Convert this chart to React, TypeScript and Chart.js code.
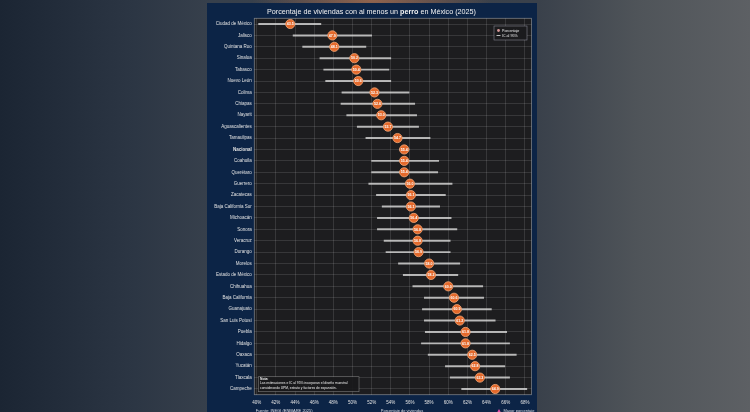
import React, { useEffect, useRef } from "react";
import { Chart, registerables } from "chart.js";
Chart.register(...registerables);

const states = [
  "Ciudad de México", "Jalisco", "Quintana Roo", "Sinaloa", "Tabasco", "Nuevo León",
  "Colima", "Chiapas", "Nayarit", "Aguascalientes", "Tamaulipas", "Nacional",
  "Coahuila", "Querétaro", "Guerrero", "Zacatecas", "Baja California Sur", "Michoacán",
  "Sonora", "Veracruz", "Durango", "Morelos", "Estado de México", "Chihuahua",
  "Baja California", "Guanajuato", "San Luis Potosí", "Puebla", "Hidalgo", "Oaxaca",
  "Yucatán", "Tlaxcala", "Campeche",
];
const pct = [
  43.5, 47.9, 48.1, 50.2, 50.4, 50.6,
  52.3, 52.6, 53.0, 53.7, 54.7, 55.4,
  55.4, 55.4, 56.0, 56.1, 56.1, 56.4,
  56.8, 56.8, 56.9, 58.0, 58.2, 60.0,
  60.6, 60.9, 61.2, 61.8, 61.8, 62.5,
  62.8, 63.3, 64.9,
];
const ciLow = [
  40.2, 43.8, 44.8, 46.6, 47.0, 47.2,
  48.9, 48.8, 49.4, 50.5, 51.4, 54.9,
  52.0, 52.0, 51.7, 52.5, 53.1, 52.6,
  52.6, 53.3, 53.5, 54.8, 55.3, 56.3,
  57.5, 57.3, 57.5, 57.6, 57.2, 57.9,
  59.7, 60.2, 61.4,
];
const ciHigh = [
  46.7, 52.0, 51.4, 54.0, 53.8, 54.0,
  55.9, 56.5, 56.7, 56.9, 58.1, 55.9,
  59.0, 58.9, 60.4, 59.7, 59.1, 60.3,
  60.9, 60.2, 60.2, 61.2, 61.0, 63.6,
  63.7, 64.5, 64.9, 66.1, 66.4, 67.1,
  65.9, 66.4, 68.2,
];
const xTicks = [40, 42, 44, 46, 48, 50, 52, 54, 56, 58, 60, 62, 64, 66, 68];

const FAMILY = "'Liberation Sans', 'DejaVu Sans', Arial, sans-serif";
const ORANGE = "#e4692b";

const decor = {
  id: "decor",
  beforeDraw(chart: any) {
    const { ctx, chartArea: a } = chart;
    ctx.save();
    ctx.fillStyle = "#1d1d1f";
    ctx.fillRect(a.left, a.top, a.right - a.left, a.bottom - a.top);
    ctx.restore();
  },
  afterDatasetsDraw(chart: any) {
    const { ctx } = chart;
    const meta = chart.getDatasetMeta(1);
    ctx.save();
    ctx.fillStyle = "#ffffff";
    ctx.font = `bold 3.6px ${FAMILY}`;
    ctx.textAlign = "center";
    ctx.textBaseline = "middle";
    meta.data.forEach((pt: any, i: number) => {
      ctx.fillText(pct[i].toFixed(1), pt.x, pt.y + 0.2);
    });
    ctx.restore();
  },
  afterDraw(chart: any) {
    const { ctx, chartArea: a } = chart;
    ctx.save();
    // plot border
    ctx.strokeStyle = "rgba(200,200,200,0.55)";
    ctx.lineWidth = 0.8;
    ctx.strokeRect(a.left, a.top, a.right - a.left, a.bottom - a.top);

    // title
    const t1 = "Porcentaje de viviendas con al menos un ";
    const t2 = "perro";
    const t3 = " en México (2025)";
    const fn = `7.2px ${FAMILY}`;
    const fb = `bold 7.2px ${FAMILY}`;
    ctx.font = fn;
    const w1 = ctx.measureText(t1).width;
    const w3 = ctx.measureText(t3).width;
    ctx.font = fb;
    const w2 = ctx.measureText(t2).width;
    let x = 164.5 - (w1 + w2 + w3) / 2;
    ctx.textBaseline = "middle";
    ctx.textAlign = "left";
    ctx.fillStyle = "#f2f2f2";
    ctx.font = fn;
    ctx.fillText(t1, x, 9);
    x += w1;
    ctx.font = fb;
    ctx.fillText(t2, x, 9);
    x += w2;
    ctx.font = fn;
    ctx.fillText(t3, x, 9);

    // legend
    ctx.fillStyle = "#1b1b1d";
    ctx.fillRect(287, 23, 33, 14);
    ctx.strokeStyle = "rgba(200,200,220,0.6)";
    ctx.lineWidth = 0.6;
    ctx.strokeRect(287, 23, 33, 14);
    ctx.fillStyle = "#d99a9a";
    ctx.beginPath();
    ctx.arc(291.5, 27.5, 1.4, 0, Math.PI * 2);
    ctx.fill();
    ctx.strokeStyle = "#e8e8e8";
    ctx.lineWidth = 0.8;
    ctx.beginPath();
    ctx.moveTo(289.5, 32.5);
    ctx.lineTo(293.5, 32.5);
    ctx.stroke();
    ctx.fillStyle = "#eeeeee";
    ctx.font = `3.6px ${FAMILY}`;
    ctx.fillText("Porcentaje", 295, 27.6);
    ctx.fillText("IC al 95%", 295, 32.6);

    // note
    ctx.fillStyle = "rgba(25,25,27,0.92)";
    ctx.fillRect(51.3, 373.7, 100.7, 15);
    ctx.strokeStyle = "rgba(200,200,200,0.55)";
    ctx.lineWidth = 0.6;
    ctx.strokeRect(51.3, 373.7, 100.7, 15);
    ctx.fillStyle = "#eeeeee";
    ctx.font = `bold 3.3px ${FAMILY}`;
    ctx.fillText("Nota:", 53, 376.5);
    ctx.font = `3.3px ${FAMILY}`;
    ctx.fillText("Las estimaciones e IC al 95% incorporan el diseño muestral", 53, 380.5);
    ctx.fillText("considerando UPM, estrato y factores de expansión.", 53, 384.8);

    // footer
    ctx.fillStyle = "#d8dce4";
    ctx.font = `4px ${FAMILY}`;
    ctx.fillText("Fuente: INEGI (ENBIARE 2025)", 48.7, 408);
    ctx.textAlign = "center";
    ctx.fillText("Porcentaje de viviendas", 195, 408);
    ctx.textAlign = "left";
    ctx.fillStyle = "#e24fa8";
    ctx.beginPath();
    ctx.moveTo(292, 406);
    ctx.lineTo(294.2, 410);
    ctx.lineTo(289.8, 410);
    ctx.closePath();
    ctx.fill();
    ctx.fillStyle = "#d8dce4";
    ctx.fillText("Mayor porcentaje", 296.5, 408);
    ctx.restore();
  },
};

export default function App() {
  const ref = useRef<HTMLCanvasElement>(null);
  useEffect(() => {
    document.body.style.margin = "0";
    document.body.style.overflow = "hidden";
    const canvas = ref.current;
    if (!canvas) return;
    const nacIdx = states.indexOf("Nacional");
    const chart = new Chart(canvas, {
      type: "bar",
      data: {
        labels: states,
        datasets: [
          {
            type: "bar",
            label: "IC al 95%",
            indexAxis: "y",
            data: ciLow.map((l, i) => [l, ciHigh[i]]) as any,
            backgroundColor: "rgba(222,222,222,0.78)",
            borderWidth: 0,
            barThickness: 1.3,
            order: 2,
          } as any,
          {
            type: "line",
            label: "Porcentaje",
            indexAxis: "y",
            data: pct,
            showLine: false,
            pointRadius: 4.6,
            pointBackgroundColor: ORANGE,
            pointBorderColor: "#f4a878",
            pointBorderWidth: 0.8,
            order: 1,
          } as any,
        ],
      },
      options: {
        animation: false,
        responsive: false,
        indexAxis: "y",
        events: [],
        layout: { padding: { top: 15.3, right: 5.3, left: 0, bottom: 0 } },
        plugins: {
          legend: { display: false },
          tooltip: { enabled: false },
          title: { display: false },
        },
        scales: {
          x: {
            type: "linear",
            min: 39.75,
            max: 68.7,
            afterBuildTicks: (s: any) => {
              s.ticks = xTicks.map((v) => ({ value: v }));
            },
            afterFit: (s: any) => {
              s.height = 23.3;
            },
            grid: { color: "rgba(255,255,255,0.2)", lineWidth: 0.6, drawTicks: false },
            border: { display: false },
            ticks: {
              color: "#e2e2e2",
              font: { size: 4.5, family: FAMILY },
              padding: 5,
              callback: (v: any) => `${v}%`,
            },
          },
          y: {
            type: "category",
            offset: true,
            afterFit: (s: any) => {
              s.width = 47.3;
            },
            grid: { offset: false, color: "rgba(255,255,255,0.2)", lineWidth: 0.6, drawTicks: false },
            border: { display: false },
            ticks: {
              color: "#e2e2e2",
              autoSkip: false,
              padding: 2.5,
              font: (c: any) => ({
                size: 4.5,
                family: FAMILY,
                weight: c.index === nacIdx ? "bold" : "normal",
              }),
            },
          },
        },
      } as any,
      plugins: [decor],
    });
    return () => chart.destroy();
  }, []);

  return (
    <div
      style={{
        position: "relative",
        width: 750,
        height: 412,
        overflow: "hidden",
        background:
          "radial-gradient(ellipse 120px 30px at 372px 0px, rgba(220,130,80,0.55), rgba(0,0,0,0) 100%), linear-gradient(90deg, #1b2533 0%, #2c3644 18%, #37404c 28%, #3a414b 72%, #4f5459 85%, #5d6064 100%)",
      }}
    >
      <div
        style={{
          position: "absolute",
          left: 207,
          top: 3,
          width: 330,
          height: 415,
          background: "#0c2446",
        }}
      >
        <canvas ref={ref} width={330} height={415} style={{ display: "block" }} />
      </div>
    </div>
  );
}
